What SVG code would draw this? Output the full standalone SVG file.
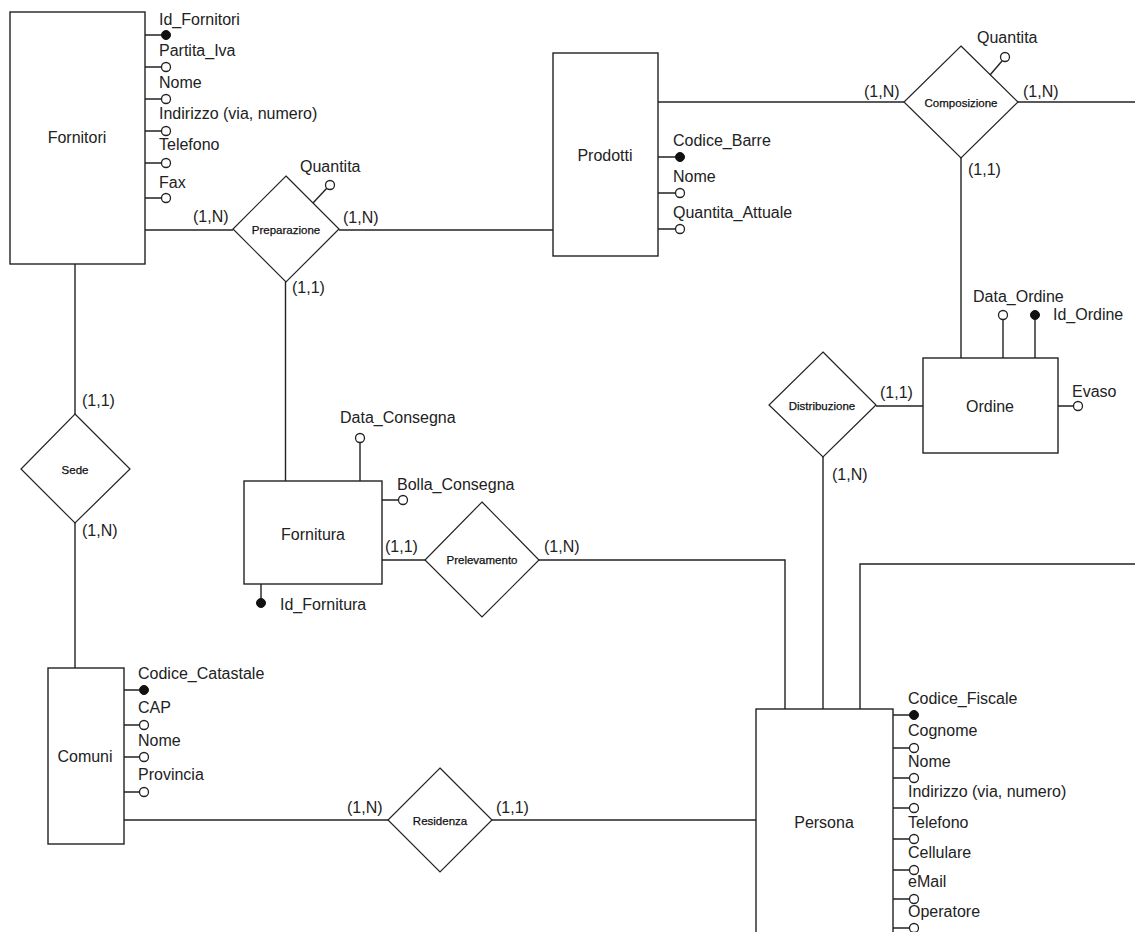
<svg xmlns="http://www.w3.org/2000/svg" width="1135" height="932" viewBox="0 0 1135 932">
<style>
.ent{fill:#fff;stroke:#222;stroke-width:1.4}
.rel{fill:#fff;stroke:#222;stroke-width:1.2}
.ln{fill:none;stroke:#222;stroke-width:1.4}
.t{font-family:"Liberation Sans",Arial,sans-serif;font-size:16px;fill:#222}
.tc{font-family:"Liberation Sans",Arial,sans-serif;font-size:16px;fill:#222;text-anchor:middle}
.tr{font-family:"Liberation Sans",Arial,sans-serif;font-size:11.5px;fill:#111;stroke:#111;stroke-width:0.25;text-anchor:middle}
.ao{fill:#fff;stroke:#222;stroke-width:1.3}
.ak{fill:#111;stroke:#111;stroke-width:1}
</style>
<rect width="1135" height="932" fill="#fff"/>

<g id="connectors">
<path class="ln" d="M145,230H233"/>
<path class="ln" d="M339,230H553"/>
<path class="ln" d="M285.5,282V481"/>
<path class="ln" d="M658,102H904"/>
<path class="ln" d="M1018,102H1135"/>
<path class="ln" d="M961,158V358"/>
<path class="ln" d="M876,406H923"/>
<path class="ln" d="M823,457V709"/>
<path class="ln" d="M382,560H425"/>
<path class="ln" d="M539,560H785V709"/>
<path class="ln" d="M860,709V564H1135"/>
<path class="ln" d="M75,264V414"/>
<path class="ln" d="M75,523V668"/>
<path class="ln" d="M124,820H388"/>
<path class="ln" d="M492,820H756"/>
<text class="t" x="193" y="222">(1,N)</text>
<text class="t" x="343" y="223">(1,N)</text>
<text class="t" x="292" y="293">(1,1)</text>
<text class="t" x="864" y="97">(1,N)</text>
<text class="t" x="1023" y="97">(1,N)</text>
<text class="t" x="968" y="175">(1,1)</text>
<text class="t" x="880" y="398">(1,1)</text>
<text class="t" x="832" y="480">(1,N)</text>
<text class="t" x="385" y="552">(1,1)</text>
<text class="t" x="544" y="552">(1,N)</text>
<text class="t" x="82" y="406">(1,1)</text>
<text class="t" x="82" y="536">(1,N)</text>
<text class="t" x="347" y="813">(1,N)</text>
<text class="t" x="496" y="813">(1,1)</text>
</g>

<g id="fornitori">
<rect class="ent" x="10" y="12" width="135" height="252"/>
<text class="tc" x="77" y="143">Fornitori</text>
<path class="ln" d="M145,35H161.5M145,67H161.5M145,99H161.5M145,131H161.5M145,163H161.5M145,198H161.5"/>
<circle class="ak" cx="166" cy="35" r="4.5"/>
<circle class="ao" cx="166" cy="67" r="4.5"/>
<circle class="ao" cx="166" cy="99" r="4.5"/>
<circle class="ao" cx="166" cy="131" r="4.5"/>
<circle class="ao" cx="166" cy="163" r="4.5"/>
<circle class="ao" cx="166" cy="198" r="4.5"/>
<text class="t" x="159" y="25">Id_Fornitori</text>
<text class="t" x="159" y="56">Partita_Iva</text>
<text class="t" x="159" y="88">Nome</text>
<text class="t" x="159" y="119">Indirizzo (via, numero)</text>
<text class="t" x="159" y="150">Telefono</text>
<text class="t" x="159" y="188">Fax</text>
</g>

<g id="preparazione">
<polygon class="rel" points="286,176 339,229 286,282 233,229"/>
<text class="tr" x="286" y="234">Preparazione</text>
<path class="ln" d="M313,203L327,188"/>
<circle class="ao" cx="330" cy="185" r="4.5"/>
<text class="t" x="300" y="172">Quantita</text>
</g>

<g id="prodotti">
<rect class="ent" x="553" y="53" width="105" height="203"/>
<text class="tc" x="605" y="161">Prodotti</text>
<path class="ln" d="M658,157H675.5M658,193H675.5M658,229H675.5"/>
<circle class="ak" cx="680" cy="157" r="4.5"/>
<circle class="ao" cx="680" cy="193" r="4.5"/>
<circle class="ao" cx="680" cy="229" r="4.5"/>
<text class="t" x="673" y="146">Codice_Barre</text>
<text class="t" x="673" y="182">Nome</text>
<text class="t" x="673" y="218">Quantita_Attuale</text>
</g>

<g id="composizione">
<polygon class="rel" points="961,46 1018,102 961,158 904,102"/>
<text class="tr" x="961" y="107">Composizione</text>
<path class="ln" d="M990,75L1002,61"/>
<circle class="ao" cx="1005" cy="57" r="4.5"/>
<text class="t" x="977" y="43">Quantita</text>
</g>

<g id="ordine">
<rect class="ent" x="923" y="358" width="135" height="95"/>
<text class="tc" x="990" y="412">Ordine</text>
<path class="ln" d="M1003,319.5V358M1035,319.5V358M1058,406H1073.5"/>
<circle class="ao" cx="1003" cy="315" r="4.5"/>
<circle class="ak" cx="1035" cy="315" r="4.5"/>
<circle class="ao" cx="1078" cy="406" r="4.5"/>
<text class="t" x="973" y="302">Data_Ordine</text>
<text class="t" x="1053" y="320">Id_Ordine</text>
<text class="t" x="1072" y="397">Evaso</text>
</g>

<g id="distribuzione">
<polygon class="rel" points="823,352 876,405 823,457 769,405"/>
<text class="tr" x="822" y="410">Distribuzione</text>
</g>

<g id="fornitura">
<rect class="ent" x="244" y="481" width="138" height="103"/>
<text class="tc" x="313" y="540">Fornitura</text>
<path class="ln" d="M360,442.5V481M382,500H398.5M261,584V598.5"/>
<circle class="ao" cx="360" cy="438" r="4.5"/>
<circle class="ao" cx="403" cy="500" r="4.5"/>
<circle class="ak" cx="261" cy="603" r="4.5"/>
<text class="t" x="340" y="423">Data_Consegna</text>
<text class="t" x="397" y="490">Bolla_Consegna</text>
<text class="t" x="280" y="610">Id_Fornitura</text>
</g>

<g id="prelevamento">
<polygon class="rel" points="482,502 539,560 482,617 425,560"/>
<text class="tr" x="482" y="564">Prelevamento</text>
</g>

<g id="sede">
<polygon class="rel" points="75,414 130,469 75,523 21,469"/>
<text class="tr" x="75" y="474">Sede</text>
</g>

<g id="comuni">
<rect class="ent" x="48" y="668" width="76" height="176"/>
<text class="tc" x="85" y="762">Comuni</text>
<path class="ln" d="M124,690H139.5M124,725H139.5M124,757H139.5M124,792H139.5"/>
<circle class="ak" cx="144" cy="690" r="4.5"/>
<circle class="ao" cx="144" cy="725" r="4.5"/>
<circle class="ao" cx="144" cy="757" r="4.5"/>
<circle class="ao" cx="144" cy="792" r="4.5"/>
<text class="t" x="138" y="679">Codice_Catastale</text>
<text class="t" x="138" y="713">CAP</text>
<text class="t" x="138" y="746">Nome</text>
<text class="t" x="138" y="780">Provincia</text>
</g>

<g id="residenza">
<polygon class="rel" points="440,768 492,820 440,872 388,820"/>
<text class="tr" x="440" y="825">Residenza</text>
</g>

<g id="persona">
<rect class="ent" x="756" y="709" width="137" height="260"/>
<text class="tc" x="824" y="828">Persona</text>
<path class="ln" d="M893,715H909.5M893,748H909.5M893,778H909.5M893,808H909.5M893,839H909.5M893,870H909.5M893,899H909.5M893,928H909.5"/>
<circle class="ak" cx="914" cy="715" r="4.5"/>
<circle class="ao" cx="914" cy="748" r="4.5"/>
<circle class="ao" cx="914" cy="778" r="4.5"/>
<circle class="ao" cx="914" cy="808" r="4.5"/>
<circle class="ao" cx="914" cy="839" r="4.5"/>
<circle class="ao" cx="914" cy="870" r="4.5"/>
<circle class="ao" cx="914" cy="899" r="4.5"/>
<circle class="ao" cx="914" cy="928" r="4.5"/>
<text class="t" x="908" y="704">Codice_Fiscale</text>
<text class="t" x="908" y="736">Cognome</text>
<text class="t" x="908" y="767">Nome</text>
<text class="t" x="908" y="797">Indirizzo (via, numero)</text>
<text class="t" x="908" y="828">Telefono</text>
<text class="t" x="908" y="858">Cellulare</text>
<text class="t" x="908" y="887">eMail</text>
<text class="t" x="908" y="917">Operatore</text>
</g>
</svg>
